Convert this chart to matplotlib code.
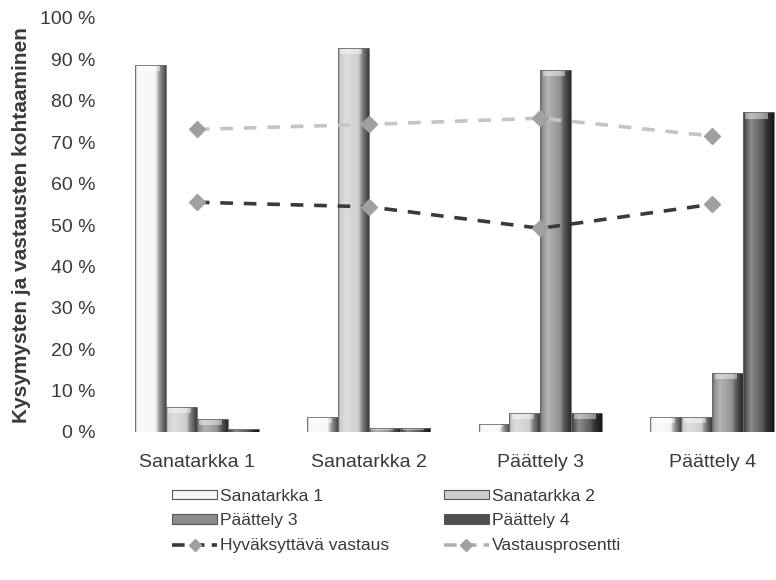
import numpy as np
import matplotlib
matplotlib.use("Agg")
import matplotlib.pyplot as plt
from matplotlib.patches import Rectangle
from matplotlib.lines import Line2D
from matplotlib.colors import to_rgb

# ---- data ----
categories = ["Sanatarkka 1", "Sanatarkka 2", "Päättely 3", "Päättely 4"]
series_names = ["Sanatarkka 1", "Sanatarkka 2", "Päättely 3", "Päättely 4"]
sanatarkka1 = [88.6, 3.6, 2.0, 3.6]
sanatarkka2 = [6.0, 92.7, 4.6, 3.6]
paattely3 = [3.1, 1.0, 87.4, 14.2]
paattely4 = [0.7, 1.0, 4.6, 77.2]
hyvaksyttava = [55.5, 54.4, 49.2, 55.0]
vastausprosentti = [73.1, 74.3, 75.8, 71.5]
yticks = [0, 10, 20, 30, 40, 50, 60, 70, 80, 90, 100]

bar_colors = ["#f6f6f6", "#cccccc", "#8c8c8c", "#4e4e4e"]
text_color = "#3a3a3a"

plt.rcParams['font.family'] = ['Liberation Sans', 'DejaVu Sans']

fig = plt.figure(figsize=(7.76, 5.8), dpi=100)
ax = fig.add_axes([111/776, 148/580, 665/776, 414/580])

x = np.arange(len(categories))
w = 0.18
series = [sanatarkka1, sanatarkka2, paattely3, paattely4]


def gradient_rgb(base, n=64):
    base = np.array(to_rgb(base))
    t = np.linspace(0, 1, n)
    pts_t = [0.0, 0.06, 0.25, 0.65, 0.78, 0.9, 1.0]
    pts_f = [-0.35, 0.0, 0.35, 0.05, -0.35, -0.55, -0.7]
    f = np.interp(t, pts_t, pts_f)
    out = np.empty((1, n, 3))
    for i, fi in enumerate(f):
        if fi >= 0:
            out[0, i] = base + (1 - base) * fi
        else:
            out[0, i] = base * (1 + fi)
    return np.clip(out, 0, 1)


for i, (vals, col) in enumerate(zip(series, bar_colors)):
    bars = ax.bar(x + (i - 1.5) * w, vals, width=w, color=col,
                  edgecolor="none", zorder=2, label=series_names[i])
    g = gradient_rgb(col)
    for b in bars:
        x0, y0 = b.get_x(), b.get_y()
        bw, bh = b.get_width(), b.get_height()
        im = ax.imshow(g, extent=[x0, x0 + bw, y0, y0 + bh], aspect='auto',
                       zorder=2.5, interpolation='bilinear')
        im.set_clip_path(b)
        cap_h = min(1.5, bh * 0.45)
        ax.add_patch(Rectangle((x0 + bw * 0.08, y0 + bh - cap_h), bw * 0.72, cap_h,
                               facecolor="white", alpha=0.45, edgecolor="none", zorder=2.6))
        ax.add_patch(Rectangle((x0, y0), bw, bh, facecolor="none",
                               edgecolor="#6a6a6a", lw=0.6, zorder=2.7))

ax.plot(x, hyvaksyttava, linestyle=(0, (3.5, 3)), color="#3a3a3a", lw=2.6,
        marker="D", markersize=8, markerfacecolor="#a0a0a0",
        markeredgecolor="#a0a0a0", zorder=4)
ax.plot(x, vastausprosentti, linestyle=(0, (3.5, 3)), color="#c4c4c4", lw=2.6,
        marker="D", markersize=8, markerfacecolor="#a0a0a0",
        markeredgecolor="#a0a0a0", zorder=4)

ax.set_xlim(-0.5, 3.5 - 22/172)
ax.set_ylim(0, 100)
ax.set_yticks(yticks)
ax.set_yticklabels([f"{v} %" for v in yticks], fontsize=14, color=text_color)
ax.set_xticks(x)
ax.set_xticklabels(categories, fontsize=14, color=text_color)
ax.tick_params(axis='both', length=0)
ax.tick_params(axis='y', pad=11)
ax.tick_params(axis='x', pad=16)
for s in ax.spines.values():
    s.set_visible(False)
ax.set_ylabel("Kysymysten ja vastausten kohtaaminen", fontsize=15,
              fontweight='bold', color=text_color)
ax.yaxis.set_label_coords(-0.121, 0.5)

# legend
handles = [Rectangle((0, 0), 1, 1, facecolor=c, edgecolor="#555555", lw=0.8)
           for c in bar_colors]
lh = Line2D([], [], linestyle=(0, (3.5, 2)), color="#3a3a3a", lw=2.6, marker="D",
            markersize=6, markerfacecolor="#a0a0a0", markeredgecolor="#a0a0a0")
lv = Line2D([], [], linestyle=(0, (3.5, 2)), color="#b0b0b0", lw=2.6, marker="D",
            markersize=6, markerfacecolor="#a0a0a0", markeredgecolor="#a0a0a0")
order_h = [handles[0], handles[2], lh, handles[1], handles[3], lv]
order_l = [series_names[0], series_names[2], "Hyväksyttävä vastaus",
           series_names[1], series_names[3], "Vastausprosentti"]
leg = fig.legend(order_h, order_l, ncol=2, loc="upper left",
                 bbox_to_anchor=(156/776, 1 - 473/580), frameon=False,
                 fontsize=12.6, handlelength=2.6, handleheight=0.45,
                 handletextpad=0.15, columnspacing=3.12, labelspacing=0.55,
                 numpoints=1, labelcolor=text_color)

fig.savefig("out.png", dpi=100)
